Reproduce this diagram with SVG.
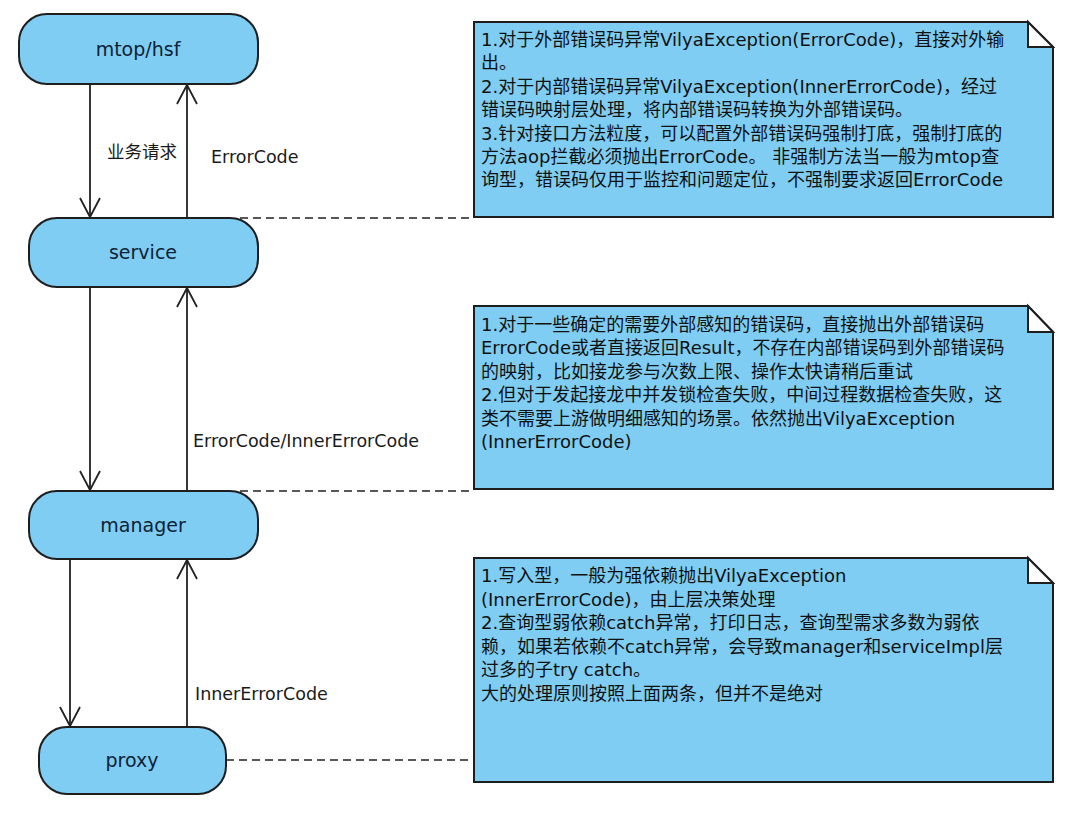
<svg xmlns="http://www.w3.org/2000/svg" width="1080" height="814" viewBox="0 0 1080 814">
<style>
.node{fill:#7fcdf2;stroke:#1e1e1e;stroke-width:2}
.nlabel{font-family:"DejaVu Sans","Noto Sans CJK SC",sans-serif;font-size:19px;fill:#0f2236;text-anchor:middle;dominant-baseline:central}
.edge{stroke:#222;stroke-width:1.8;fill:none}
.dash{stroke:#222;stroke-width:1.7;fill:none;stroke-dasharray:8 5}
.elabel{font-family:"DejaVu Sans","Noto Sans CJK SC",sans-serif;font-size:17.5px;fill:#1a1a1a}
.note{fill:#7fcdf2;stroke:#1e1e1e;stroke-width:2}
.fold{fill:#ffffff;stroke:#1e1e1e;stroke-width:2;stroke-linejoin:miter}
.ntext{font-family:"DejaVu Sans","Noto Sans CJK SC",sans-serif;font-size:18px;fill:#111}
</style>
<defs>
<marker id="arr" markerUnits="userSpaceOnUse" markerWidth="26" markerHeight="26" refX="22" refY="12" orient="auto" overflow="visible">
<path d="M3,2 L22,12 L3,22" fill="none" stroke="#222" stroke-width="1.8"/>
</marker>
</defs>
<rect width="1080" height="814" fill="#ffffff"/>

<g id="connectors">
<line class="edge" x1="90" y1="84" x2="90" y2="217" marker-end="url(#arr)"/>
<line class="edge" x1="187" y1="218" x2="187" y2="85" marker-end="url(#arr)"/>
<line class="edge" x1="90" y1="287" x2="90" y2="490" marker-end="url(#arr)"/>
<line class="edge" x1="187" y1="491" x2="187" y2="288" marker-end="url(#arr)"/>
<line class="edge" x1="70" y1="559" x2="70" y2="726" marker-end="url(#arr)"/>
<line class="edge" x1="187" y1="727" x2="187" y2="560" marker-end="url(#arr)"/>
<line class="dash" x1="240" y1="218" x2="474" y2="218"/>
<line class="dash" x1="240" y1="491" x2="474" y2="491"/>
<line class="dash" x1="226" y1="760" x2="474" y2="760"/>
<text class="elabel" x="107" y="158">业务请求</text>
<text class="elabel" x="211" y="163">ErrorCode</text>
<text class="elabel" x="193" y="447">ErrorCode/InnerErrorCode</text>
<text class="elabel" x="195" y="700">InnerErrorCode</text>
</g>

<g id="node-mtop">
<rect class="node" x="19" y="14" width="239" height="70" rx="28" ry="28"/>
<text class="nlabel" x="138" y="49">mtop/hsf</text>
</g>
<g id="node-service">
<rect class="node" x="29" y="218" width="229" height="69" rx="28" ry="28"/>
<text class="nlabel" x="143" y="252">service</text>
</g>
<g id="node-manager">
<rect class="node" x="29" y="491" width="229" height="68" rx="28" ry="28"/>
<text class="nlabel" x="143" y="525">manager</text>
</g>
<g id="node-proxy">
<rect class="node" x="39" y="727" width="187" height="67" rx="28" ry="28"/>
<text class="nlabel" x="132" y="760">proxy</text>
</g>

<g id="note-service">
<path class="note" d="M474,22 H1028 L1053,47 V217 H474 Z"/>
<path class="fold" d="M1028,22 V47 H1053 Z"/>
<text class="ntext">
<tspan x="481" y="46">1.对于外部错误码异常VilyaException(ErrorCode)，直接对外输</tspan>
<tspan x="481" y="69.4">出。</tspan>
<tspan x="481" y="92.8">2.对于内部错误码异常VilyaException(InnerErrorCode)，经过</tspan>
<tspan x="481" y="116.2">错误码映射层处理，将内部错误码转换为外部错误码。</tspan>
<tspan x="481" y="139.6">3.针对接口方法粒度，可以配置外部错误码强制打底，强制打底的</tspan>
<tspan x="481" y="163">方法aop拦截必须抛出ErrorCode。 非强制方法当一般为mtop查</tspan>
<tspan x="481" y="186.4">询型，错误码仅用于监控和问题定位，不强制要求返回ErrorCode</tspan>
</text>
</g>

<g id="note-manager">
<path class="note" d="M474,306 H1028 L1053,332 V489 H474 Z"/>
<path class="fold" d="M1028,306 V332 H1053 Z"/>
<text class="ntext">
<tspan x="481" y="331">1.对于一些确定的需要外部感知的错误码，直接抛出外部错误码</tspan>
<tspan x="481" y="354.4">ErrorCode或者直接返回Result，不存在内部错误码到外部错误码</tspan>
<tspan x="481" y="377.8">的映射，比如接龙参与次数上限、操作太快请稍后重试</tspan>
<tspan x="481" y="401.2">2.但对于发起接龙中并发锁检查失败，中间过程数据检查失败，这</tspan>
<tspan x="481" y="424.6">类不需要上游做明细感知的场景。依然抛出VilyaException</tspan>
<tspan x="481" y="448">(InnerErrorCode)</tspan>
</text>
</g>

<g id="note-proxy">
<path class="note" d="M474,558 H1028 L1053,583 V782 H474 Z"/>
<path class="fold" d="M1028,558 V583 H1053 Z"/>
<text class="ntext">
<tspan x="481" y="582">1.写入型，一般为强依赖抛出VilyaException</tspan>
<tspan x="481" y="605.5">(InnerErrorCode)，由上层决策处理</tspan>
<tspan x="481" y="629">2.查询型弱依赖catch异常，打印日志，查询型需求多数为弱依</tspan>
<tspan x="481" y="652.5">赖，如果若依赖不catch异常，会导致manager和serviceImpl层</tspan>
<tspan x="481" y="676">过多的子try catch。</tspan>
<tspan x="481" y="699.5">大的处理原则按照上面两条，但并不是绝对</tspan>
</text>
</g>
</svg>
